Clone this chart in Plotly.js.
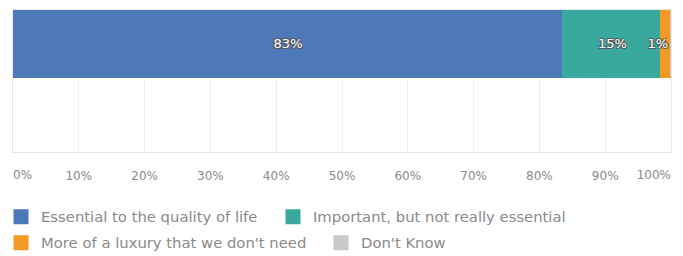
<!DOCTYPE html>
<html>
<head>
<meta charset="utf-8">
<script src="https://cdn.plot.ly/plotly-3.0.1.min.js"></script>
<style>html,body{margin:0;padding:0;background:#fff;}#chart{width:683px;height:256px;}</style>
</head>
<body>
<div id="chart"></div>
<script>
const seriesNames = ["Essential to the quality of life", "Important, but not really essential", "More of a luxury that we don't need", "Don't Know"];
const seriesValues = [83.6, 15.0, 1.4, 0];
const valueLabels = ["83%", "15%", "1%", ""];
const seriesColors = ["#4d78b9", "#3aa99d", "#f39a26", "#c9c9c9"];
const tickValues = [0, 10, 20, 30, 40, 50, 60, 70, 80, 90, 100];
const tickLabels = ["0%", "10%", "20%", "30%", "40%", "50%", "60%", "70%", "80%", "90%", "100%"];
const anchors = ["middle", "middle", "end", "middle"];

const FONT = "DejaVu Sans, sans-serif";
const shadow = "-1px -1px 0 #5a5a5a, 1px -1px 0 #5a5a5a, -1px 1px 0 #5a5a5a, 1px 1px 0 #5a5a5a";
const legendIds = ["legend", "legend2", "legend3", "legend4"];
const traces = seriesNames.map((name, i) => ({
  type: "bar",
  orientation: "h",
  name: name,
  x: [seriesValues[i]],
  y: [0],
  width: 1,
  text: [valueLabels[i]],
  textposition: "inside",
  textangle: 0,
  insidetextanchor: anchors[i],
  constraintext: "none",
  textfont: {family: FONT, size: 13, color: "#ffffff", shadow: shadow},
  marker: {color: seriesColors[i], line: {width: 3, color: seriesColors[i]}},
  legend: legendIds[i],
  hoverinfo: "skip"
}));

// split ticks: first label left-aligned, last right-aligned, rest centred (as in the reference)
const last = tickValues.length - 1;
const midVals = tickValues.slice(1, last), midText = tickLabels.slice(1, last);

const tickFont = {family: FONT, size: 12, color: "#8a8a8a"};
const baseX = {
  range: [0, 100], ticks: "", tickfont: tickFont, ticklabelstandoff: 13,
  zeroline: false, automargin: false, fixedrange: true, tickmode: "array"
};

const legendFont = {family: FONT, size: 14.8, color: "#8a8a8a"};
const legendX = [-0.0182, 0.3951, -0.0182, 0.4681];
const legendY = [-0.458, -0.458, -0.641, -0.641];

const layout = {
  width: 683, height: 256,
  margin: {l: 13, r: 12, t: 10, b: 104, autoexpand: false},
  barmode: "stack",
  paper_bgcolor: "#ffffff",
  plot_bgcolor: "#ffffff",
  font: {family: FONT, color: "#8a8a8a"},
  xaxis: Object.assign({}, baseX, {
    tickvals: midVals, ticktext: midText,
    showgrid: true, gridcolor: "#f0f0f0", gridwidth: 1,
    minor: {tickvals: tickValues, showgrid: true, gridcolor: "#f0f0f0", ticks: ""},
    showline: true, linecolor: "#e8e8e8", mirror: true
  }),
  xaxis2: Object.assign({}, baseX, {
    overlaying: "x", anchor: "y", side: "bottom", ticklabelstandoff: 14,
    tickvals: [tickValues[0]], ticktext: [tickLabels[0]],
    ticklabelposition: "outside right", showgrid: false, showline: false
  }),
  xaxis3: Object.assign({}, baseX, {
    overlaying: "x", anchor: "y", side: "bottom", ticklabelstandoff: 14,
    tickvals: [tickValues[last]], ticktext: [tickLabels[last]],
    ticklabelposition: "outside left", showgrid: false, showline: false
  }),
  yaxis: {
    range: [-1.65, 0.5],
    showticklabels: false, showgrid: false, zeroline: false,
    showline: true, linecolor: "#e8e8e8", mirror: true,
    automargin: false,
    fixedrange: true
  },
  showlegend: true
};
legendIds.forEach((id, i) => {
  layout[id] = {orientation: "h", x: legendX[i], xanchor: "left", y: legendY[i], yanchor: "middle", font: legendFont};
});

// invisible anchor traces so the overlay axes are drawn
traces.push({type: "scatter", x: [], y: [], xaxis: "x2", yaxis: "y", showlegend: false, hoverinfo: "skip"});
traces.push({type: "scatter", x: [], y: [], xaxis: "x3", yaxis: "y", showlegend: false, hoverinfo: "skip"});

Plotly.newPlot("chart", traces, layout, {displayModeBar: false, staticPlot: true});
</script>
</body>
</html>
